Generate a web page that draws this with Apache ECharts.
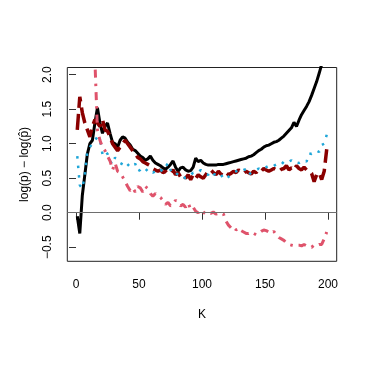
<!DOCTYPE html>
<html>
<head>
<meta charset="utf-8">
<script src="https://cdn.jsdelivr.net/npm/echarts@6/dist/echarts.min.js"></script>
<style>
  html, body { margin: 0; padding: 0; background: #fff; }
  #main { width: 374px; height: 374px; }
</style>
</head>
<body>
<div id="main"></div>
<script>
// K 取值（每隔 2 取一个点）
var kVals = [1, 3, 5, 7, 9, 11, 13, 15, 17, 19, 21, 23, 25, 27, 29, 31, 33, 35, 37, 39,
  41, 43, 45, 47, 49, 51, 53, 55, 57, 59, 61, 63, 65, 67, 69, 71, 73, 75, 77, 79,
  81, 83, 85, 87, 89, 91, 93, 95, 97, 99, 101, 103, 105, 107, 109, 111, 113, 115, 117, 119,
  121, 123, 125, 127, 129, 131, 133, 135, 137, 139, 141, 143, 145, 147, 149, 151, 153, 155, 157, 159,
  161, 163, 165, 167, 169, 171, 173, 175, 177, 179, 181, 183, 185, 187, 189, 191, 193, 195, 197, 199]

// 黑色实线
var blackVals = [-0.05, -0.30, 0.25, 0.55, 0.85, 1.00, 1.05, 1.30, 1.52, 1.30,
  1.15, 1.25, 1.30, 1.15, 1.02, 1.00, 0.95, 1.05, 1.10, 1.08,
  1.02, 0.98, 0.92, 0.90, 0.86, 0.82, 0.80, 0.76, 0.78, 0.82,
  0.76, 0.72, 0.70, 0.68, 0.65, 0.63, 0.66, 0.70, 0.75, 0.66,
  0.60, 0.65, 0.66, 0.62, 0.60, 0.61, 0.66, 0.79, 0.74, 0.76,
  0.72, 0.70, 0.69, 0.69, 0.69, 0.69, 0.70, 0.70, 0.70, 0.71,
  0.72, 0.73, 0.74, 0.75, 0.76, 0.77, 0.78, 0.79, 0.81, 0.82,
  0.84, 0.87, 0.90, 0.92, 0.95, 0.97, 0.98, 1.00, 1.02, 1.03,
  1.05, 1.08, 1.11, 1.15, 1.19, 1.23, 1.31, 1.25, 1.34, 1.42,
  1.48, 1.54, 1.61, 1.70, 1.80, 1.90, 2.02, 2.15, 2.30, 2.45]

// 深红色长虚线
var darkredVals = [1.20, 1.68, 1.45, 1.30, 1.20, 1.10, 1.25, 1.35, 1.30, 1.25,
  1.35, 1.20, 1.18, 1.10, 1.00, 0.95, 0.90, 0.95, 1.00, 1.05,
  1.00, 0.95, 0.90, 0.86, 0.80, 0.78, 0.74, 0.72, 0.70, 0.68,
  0.64, 0.62, 0.60, 0.62, 0.58, 0.60, 0.56, 0.58, 0.62, 0.55,
  0.58, 0.52, 0.55, 0.50, 0.55, 0.48, 0.55, 0.50, 0.55, 0.52,
  0.50, 0.55, 0.60, 0.62, 0.58, 0.55, 0.60, 0.56, 0.54, 0.58,
  0.55, 0.57, 0.60, 0.58, 0.62, 0.60, 0.57, 0.60, 0.58, 0.56,
  0.60, 0.58, 0.62, 0.60, 0.64, 0.62, 0.60, 0.62, 0.64, 0.62,
  0.60, 0.63, 0.64, 0.68, 0.62, 0.65, 0.62, 0.68, 0.64, 0.62,
  0.66, 0.62, 0.60, 0.57, 0.45, 0.55, 0.58, 0.48, 0.60, 0.92]

// 蓝色点线
var blueVals = [0.82, 0.40, 0.35, 0.55, 0.90, 0.95, 1.00, 1.05, 1.10, 1.05,
  0.85, 0.90, 0.85, 0.75, 0.70, 0.80, 0.75, 0.72, 0.70, 0.74,
  0.70, 0.66, 0.68, 0.71, 0.60, 0.62, 0.66, 0.64, 0.60, 0.62,
  0.58, 0.60, 0.58, 0.62, 0.60, 0.66, 0.72, 0.62, 0.56, 0.58,
  0.55, 0.56, 0.52, 0.50, 0.51, 0.55, 0.58, 0.57, 0.58, 0.62,
  0.58, 0.56, 0.55, 0.60, 0.56, 0.55, 0.52, 0.55, 0.50, 0.48,
  0.52, 0.55, 0.58, 0.60, 0.62, 0.60, 0.62, 0.63, 0.55, 0.58,
  0.60, 0.62, 0.64, 0.62, 0.65, 0.66, 0.68, 0.66, 0.68, 0.70,
  0.72, 0.70, 0.74, 0.76, 0.74, 0.76, 0.72, 0.73, 0.72, 0.74,
  0.76, 0.74, 0.86, 0.85, 0.88, 0.90, 0.88, 0.98, 1.00, 1.13]

// 粉红色点划线（前几个点在图外）
var pinkVals = [null, null, null, null, null, null, 3.50, 2.20, 1.20, 1.05,
  0.95, 0.90, 0.82, 0.75, 0.62, 0.72, 0.60, 0.58, 0.52, 0.45,
  0.38, 0.32, 0.36, 0.30, 0.38, 0.36, 0.30, 0.38, 0.35, 0.28,
  0.24, 0.28, 0.24, 0.22, 0.18, 0.12, 0.15, 0.10, 0.12, 0.18,
  0.15, 0.10, 0.12, 0.08, 0.14, 0.05, 0.08, 0.02, 0.00, 0.04,
  0.01, -0.02, 0.00, -0.01, 0.01, -0.02, -0.01, 0.00, -0.02, -0.12,
  -0.18, -0.22, -0.20, -0.25, -0.22, -0.26, -0.28, -0.30, -0.30, -0.28,
  -0.30, -0.32, -0.30, -0.27, -0.25, -0.26, -0.28, -0.30, -0.27, -0.32,
  -0.36, -0.38, -0.40, -0.44, -0.46, -0.47, -0.48, -0.47, -0.47, -0.48,
  -0.46, -0.48, -0.49, -0.50, -0.47, -0.48, -0.46, -0.46, -0.38, -0.28]

var xTicks = [0, 50, 100, 150, 200]
var yTicks = [-0.5, 0, 0.5, 1, 1.5, 2]

var FONT = "'Liberation Sans', Arial, sans-serif"

function pairs(vals) {
  return kVals.map(function (k, i) { return [k, vals[i]] })
}

function chart() {
  var myChart = echarts.init(document.getElementById('main'))
  var option = {
    animation: false,
    textStyle: { fontFamily: FONT },
    grid: {
      left: 67.3,
      top: 67.5,
      width: 269.4,
      height: 193.8,
      show: true,
      borderColor: '#222',
      borderWidth: 1,
      backgroundColor: 'transparent'
    },
    xAxis: {
      type: 'value',
      min: -6.92,
      max: 206.92,
      name: 'K',
      nameLocation: 'middle',
      nameGap: 47,
      nameTextStyle: { color: '#000', fontSize: 12, fontFamily: FONT },
      axisLine: { show: false },
      splitLine: { show: false },
      axisTick: {
        show: true,
        length: 7,
        customValues: xTicks,
        lineStyle: { color: '#333' }
      },
      axisLabel: {
        customValues: xTicks,
        margin: 17,
        color: '#000',
        fontSize: 12,
        fontFamily: FONT
      }
    },
    yAxis: {
      type: 'value',
      min: -0.704,
      max: 2.104,
      name: 'log(p) \u2212 log(p\u0302)',
      nameLocation: 'middle',
      nameRotate: 90,
      nameGap: 37,
      nameTextStyle: { color: '#000', fontSize: 12, fontFamily: FONT },
      axisLine: { show: false },
      splitLine: { show: false },
      axisTick: {
        show: true,
        length: 7,
        customValues: yTicks,
        lineStyle: { color: '#333' }
      },
      axisLabel: {
        customValues: yTicks,
        rotate: 90,
        margin: 14,
        color: '#000',
        fontSize: 12,
        fontFamily: FONT,
        formatter: function (v) { return v.toFixed(1).replace('-', '\u2212') }
      }
    },
    series: [
      {
        name: 'black',
        type: 'line',
        data: pairs(blackVals),
        showSymbol: false,
        symbol: 'none',
        lineStyle: { color: '#000', width: 3, cap: 'butt' },
        markLine: {
          silent: true,
          symbol: 'none',
          label: { show: false },
          lineStyle: { color: '#6e6e6e', width: 1.2, type: 'solid' },
          data: [{ yAxis: 0 }]
        }
      },
      {
        name: 'darkred',
        type: 'line',
        data: pairs(darkredVals),
        showSymbol: false,
        symbol: 'none',
        lineStyle: { color: '#8B0000', width: 3.5, type: [16, 6], cap: 'butt' }
      },
      {
        name: 'blue',
        type: 'line',
        data: pairs(blueVals),
        showSymbol: false,
        symbol: 'none',
        lineStyle: { color: '#1FA6D8', width: 2.5, type: [2.5, 7], cap: 'butt' }
      },
      {
        name: 'pink',
        type: 'line',
        data: pairs(pinkVals),
        showSymbol: false,
        symbol: 'none',
        connectNulls: false,
        lineStyle: { color: '#DF536B', width: 3, type: [2.5, 6, 8, 6], cap: 'butt' }
      }
    ]
  }
  myChart.setOption(option)
}

chart()
</script>
</body>
</html>
